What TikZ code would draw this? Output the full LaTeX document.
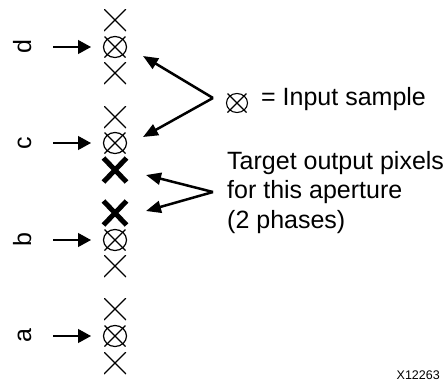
\documentclass[tikz,border=0pt]{standalone}
\usepackage{fontspec}
\setmainfont{Liberation Sans}
\usetikzlibrary{arrows.meta}
\tikzset{
  thinx/.style={rectangle, inner sep=0pt, minimum size=22pt,
    path picture={\draw[line width=1.2pt]
      (path picture bounding box.north west) -- (path picture bounding box.south east)
      (path picture bounding box.north east) -- (path picture bounding box.south west);}},
  insample/.pic={
    \draw[line width=1.2pt] (0,0) ellipse [x radius=11.5, y radius=10.5];
    \draw[line width=1.2pt] (-10.5,-10.5) -- (10.5,10.5) (-10.5,10.5) -- (10.5,-10.5);
    \coordinate (-c) at (0,0);},
  legsample/.pic={
    \draw[line width=1.1pt] (0,0) ellipse [x radius=10.5, y radius=9.5];
    \draw[line width=1.1pt] (-9.5,-9.5) -- (9.5,9.5) (-9.5,9.5) -- (9.5,-9.5);
    \coordinate (-c) at (0,0);},
  boldx/.pic={\draw[line width=5pt] (-11.5,-12) -- (11.5,12) (-11.5,12) -- (11.5,-12);
    \coordinate (-c) at (0,0);},
  lab/.style={rotate=90, anchor=base, inner sep=0pt, font=\fontsize{25}{30}\selectfont},
  txt/.style={anchor=base west, inner sep=0pt, font=\fontsize{25}{29.5}\selectfont},
  harrow/.style={line width=1.2pt, -{Triangle[length=13pt,width=14pt]}},
  darrow/.style={line width=2.5pt, -{Triangle[length=15pt,width=12pt]}},
}
\begin{document}
\begin{tikzpicture}[x=1pt,y=-1pt]
\useasboundingbox (0,0) rectangle (447,381);
% column d
\node[thinx] (d1) at (115,20) {};
\pic (d2) at (115,47) {insample};
\node[thinx] (d3) at (115,73) {};
% column c
\node[thinx] (c1) at (115,117) {};
\pic (c2) at (115,143) {insample};
\pic (c3) at (115,170) {boldx};
% column b
\pic (b1) at (115,213) {boldx};
\pic (b2) at (115,240) {insample};
\node[thinx] (b3) at (115,266) {};
% column a
\node[thinx] (a1) at (115,309) {};
\pic (a2) at (115,336) {insample};
\node[thinx] (a3) at (115,363) {};
% labels
\node[lab] (ld) at (31,47) {d};
\node[lab] (lc) at (31,143) {c};
\node[lab] (lb) at (31,240) {b};
\node[lab] (la) at (31,336) {a};
% horizontal arrows
\foreach \n/\y in {d/47,c/143,b/240,a/336}{
  \coordinate (s\n) at (53,\y);
  \coordinate (t\n) at (91,\y);
  \draw[harrow] (s\n) -- (t\n);
}
% legend
\pic (leg) at (237,103) {legsample};
\node[txt] (legtxt) at (261,105) {= Input sample};
\node[txt] (t1) at (227,169) {Target output pixels};
\node[txt] (t2) at (227,198.5) {for this aperture};
\node[txt] (t3) at (227,228) {(2 phases)};
\node[anchor=base east, inner sep=0pt, font=\fontsize{12.5}{15}\selectfont] (code) at (440,379) {X12263};
% diagonal arrows
\coordinate (v1) at (213,98);
\coordinate (v2) at (213,192);
\coordinate (p1) at (143,56);
\coordinate (p2) at (143,137);
\coordinate (p3) at (146,175);
\coordinate (p4) at (146,211);
\draw[darrow] (v1) -- (p1);
\draw[darrow] (v1) -- (p2);
\draw[darrow] (v2) -- (p3);
\draw[darrow] (v2) -- (p4);
\end{tikzpicture}
\end{document}
